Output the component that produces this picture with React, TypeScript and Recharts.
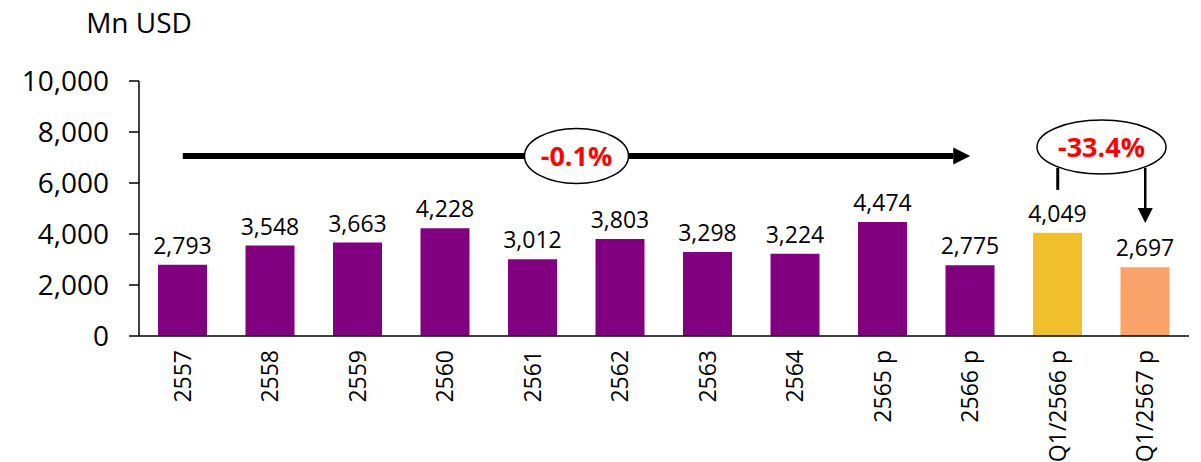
import React from "react";
import {
  BarChart,
  Bar,
  XAxis,
  YAxis,
  Cell,
  LabelList,
  ReferenceLine,
} from "recharts";

const categories = [
  "2557",
  "2558",
  "2559",
  "2560",
  "2561",
  "2562",
  "2563",
  "2564",
  "2565 p",
  "2566 p",
  "Q1/2566 p",
  "Q1/2567 p",
];
const values = [2793, 3548, 3663, 4228, 3012, 3803, 3298, 3224, 4474, 2775, 4049, 2697];
const barColors = [
  "#800080",
  "#800080",
  "#800080",
  "#800080",
  "#800080",
  "#800080",
  "#800080",
  "#800080",
  "#800080",
  "#800080",
  "#F1BF2C",
  "#F8A46A",
];
const yTicks = [0, 2000, 4000, 6000, 8000, 10000];
const unitLabel = "Mn USD";
const longRunChange = "-0.1%";
const quarterChange = "-33.4%";

const FONT = "'Open Sans', 'Noto Sans', sans-serif";

const data = categories.map((name, i) => ({ name, value: values[i], color: barColors[i] }));

const fmt = (v: number) => Number(v).toLocaleString("en-US");

function CategoryTick(props: any) {
  const { x, y, payload } = props;
  return (
    <text
      transform={`translate(${x + 8},${y + 14}) rotate(-90)`}
      textAnchor="end"
      fontSize={23}
      fontFamily={FONT}
      fill="#000"
    >
      {payload.value}
    </text>
  );
}

function UnitTitle(props: any) {
  const vb = props.viewBox || { x: 0, y: 81, width: 139 };
  return (
    <text
      x={vb.x + vb.width}
      y={vb.y - 48}
      textAnchor="middle"
      fontSize={28}
      fontFamily={FONT}
      fill="#000"
    >
      {unitLabel}
    </text>
  );
}

// arrow drawn along the reference segment, head at the second point
const makeArrow = (width: number, headLen: number, headHalf: number) => (p: any) => {
  const { x1, y1, x2, y2 } = p;
  const len = Math.hypot(x2 - x1, y2 - y1) || 1;
  const ux = (x2 - x1) / len;
  const uy = (y2 - y1) / len;
  const bx = x2 - ux * headLen;
  const by = y2 - uy * headLen;
  const pts = [
    `${x2},${y2}`,
    `${bx - uy * headHalf},${by + ux * headHalf}`,
    `${bx + uy * headHalf},${by - ux * headHalf}`,
  ].join(" ");
  return (
    <g>
      <line x1={x1} y1={y1} x2={bx} y2={by} stroke="#000" strokeWidth={width} />
      <polygon points={pts} fill="#000" />
    </g>
  );
};

// ellipse badge centred between the two segment ends
const makeBadge = (label: string, rx: number, ry: number) => (p: any) => {
  const cx = (p.x1 + p.x2) / 2;
  const cy = p.y1;
  return (
    <g>
      <ellipse cx={cx} cy={cy} rx={rx} ry={ry} fill="#fff" stroke="#000" strokeWidth={1.5} />
      <text
        x={cx}
        y={cy + 10}
        textAnchor="middle"
        fontSize={27}
        fontWeight="bold"
        fontFamily={FONT}
        fill="#FF0000"
      >
        {label}
      </text>
    </g>
  );
};

export default function App() {
  return (
    <div style={{ position: "absolute", left: 0, top: 0 }}>
      <BarChart
        width={1201}
        height={462}
        data={data}
        margin={{ top: 81, right: 12, bottom: 0, left: 0 }}
      >
        <XAxis
          dataKey="name"
          height={126}
          interval={0}
          tickLine={false}
          tickSize={0}
          tickMargin={0}
          axisLine={{ stroke: "#000", strokeWidth: 1.5 }}
          tick={<CategoryTick />}
        />
        <YAxis
          width={139}
          domain={[0, 10000]}
          ticks={yTicks}
          tickSize={10}
          tickMargin={20}
          tickFormatter={fmt}
          axisLine={{ stroke: "#000", strokeWidth: 1.5 }}
          tickLine={{ stroke: "#000", strokeWidth: 1.5 }}
          tick={{ fontSize: 28, fontFamily: FONT, fill: "#000" }}
          label={<UnitTitle />}
        />
        <Bar dataKey="value" barSize={49} isAnimationActive={false}>
          {data.map((d) => (
            <Cell key={d.name} fill={d.color} />
          ))}
          <LabelList
            dataKey="value"
            position="top"
            offset={11}
            formatter={(v: any) => fmt(v)}
            style={{ fontSize: 23, fontFamily: FONT, fill: "#000" }}
          />
        </Bar>
        <ReferenceLine
          segment={[
            { x: "2557", y: 7060 },
            { x: "2566 p", y: 7060 },
          ]}
          shape={makeArrow(6, 17, 8.5)}
        />
        <ReferenceLine
          segment={[
            { x: "Q1/2566 p", y: 6600 },
            { x: "Q1/2566 p", y: 5730 },
          ]}
          stroke="#000"
          strokeWidth={3}
        />
        <ReferenceLine
          segment={[
            { x: "Q1/2567 p", y: 6600 },
            { x: "Q1/2567 p", y: 4430 },
          ]}
          shape={makeArrow(2.5, 15, 7.5)}
        />
        <ReferenceLine
          segment={[
            { x: "2561", y: 7060 },
            { x: "2562", y: 7060 },
          ]}
          shape={makeBadge(longRunChange, 52, 27.5)}
        />
        <ReferenceLine
          segment={[
            { x: "Q1/2566 p", y: 7410 },
            { x: "Q1/2567 p", y: 7410 },
          ]}
          shape={makeBadge(quarterChange, 64.5, 27)}
        />
      </BarChart>
    </div>
  );
}
